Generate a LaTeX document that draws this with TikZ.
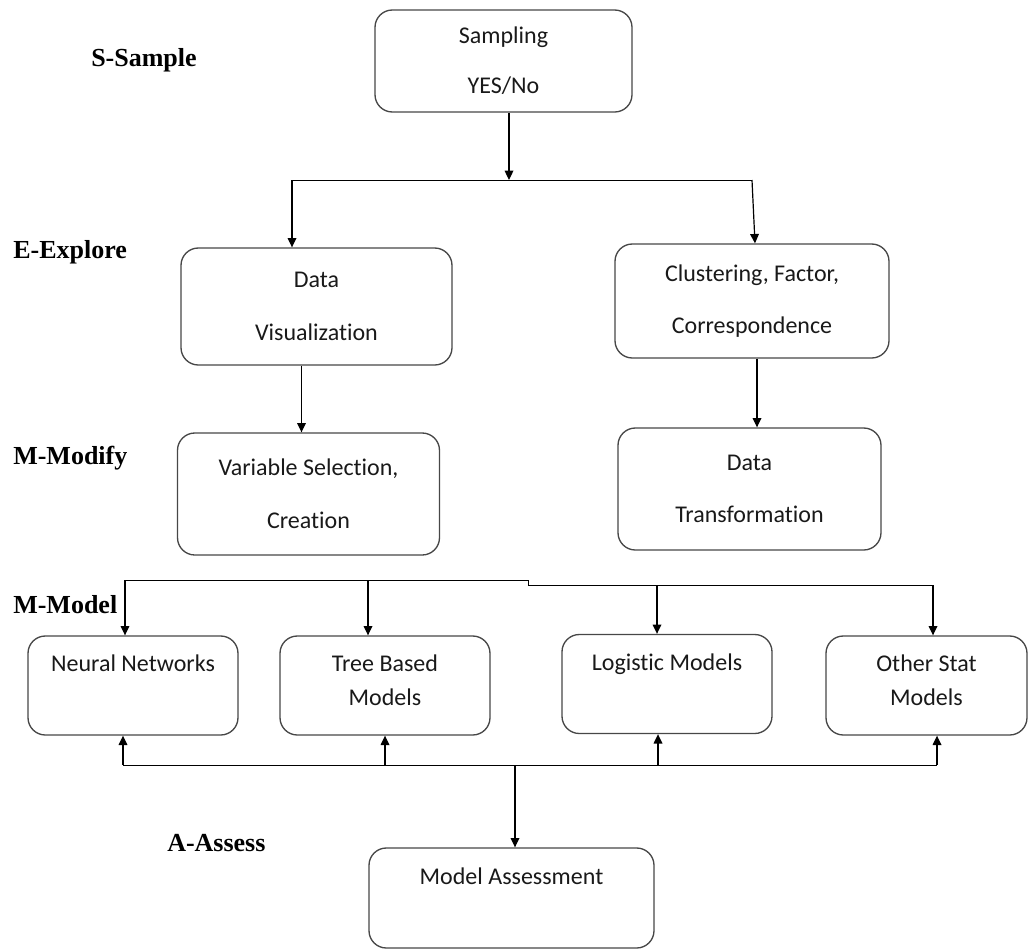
\documentclass[tikz,border=0pt]{standalone}
\usepackage{fontspec}
\setmainfont{Carlito}[Ligatures=NoCommon]
\newfontfamily\phasefont{Liberation Serif}
\usetikzlibrary{arrows.meta,calc}
\tikzstyle{stage} = [draw=black!72, line width=1pt, rounded corners=13pt, align=center, text=black!90, font=\fontsize{18}{25.5}\selectfont, inner sep=0pt]
\newcommand{\lowpad}[1]{\rule[-#1]{0pt}{#1}}

\begin{document}
\begin{tikzpicture}[x=0.75pt, y=-0.75pt,
  phase/.style={anchor=west, inner sep=0pt, font=\phasefont\bfseries\fontsize{19.5}{22}\selectfont},
  arr/.style={-{Triangle[length=7pt,width=6.5pt]}, line width=0.9pt}]
\useasboundingbox (0,0) rectangle (1029,950);

% Phase labels
\node[phase] (sample) at (91,60)  {S-Sample};
\node[phase] (explore) at (13,252) {E-Explore};
\node[phase] (modify) at (13,458)  {M-Modify};
\node[phase] (model) at (13,605)   {M-Model};
\node[phase] (assessl) at (167,843) {A-Assess};

% Define nodes
\node[stage, minimum width=192.75pt, minimum height=76.5pt] (samp)  at (503.5,61)  {Sampling\\[12pt]YES/No};
\node[stage, minimum width=203.25pt, minimum height=87.75pt] (dv)   at (316.5,306.5) {Data\\[14pt]Visualization};
\node[stage, minimum width=205.5pt, minimum height=85.5pt]  (clus)  at (752,301)   {Clustering, Factor,\\[14pt]Correspondence};
\node[stage, minimum width=196.5pt, minimum height=91.5pt]  (vs)    at (308.5,494) {Variable Selection,\\[14pt]Creation};
\node[stage, minimum width=197.25pt, minimum height=91.5pt] (dt)    at (749.5,489) {Data\\[14pt]Transformation};

\node[stage, minimum width=157.5pt, minimum height=74.25pt] (nn)    at (133,685.5) {Neural Networks\\\strut};
\node[stage, minimum width=157.5pt, minimum height=74.25pt] (tree)  at (385,685.5) {Tree Based\\Models\lowpad{7.5pt}};
\node[stage, minimum width=157.5pt, minimum height=74.25pt] (logit) at (667,684)   {Logistic Models\\\strut};
\node[stage, minimum width=150.75pt, minimum height=74.25pt] (other) at (926.5,685.5) {Other Stat\\Models\lowpad{7.5pt}};

\node[stage, minimum width=213.75pt, minimum height=75pt]   (assess) at (511.5,898) {Model Assessment\lowpad{33pt}};

% Junctions
\coordinate (split)  at (509,180);
\coordinate (splitL) at (292,180);
\coordinate (splitR) at (752,180);
\coordinate (busL)   at (125,580);
\coordinate (busStep) at (528,580);
\coordinate (busR)   at (933,585);
\coordinate (tapT)   at (368,580);
\coordinate (tapG)   at (657,585);
\coordinate (retL)   at (123,765);
\coordinate (retR)   at (937,765);
\coordinate (retM)   at (515,765);
\coordinate (upG)    at (658,765);

% Edges
\draw[arr] (samp.south -| split) -- (split);
\draw (splitL) -- (splitR);
\draw[arr] (splitL) -- (splitL |- dv.north);
\draw[arr] (splitR) -- ($(splitR |- clus.north)+(3,0)$);
\draw[arr] ($(dv.south)+(-15,0)$) -- ($(vs.north)+(-7,0)$);
\draw[arr] ($(clus.south)+(5,0)$) -- ($(dt.north)+(7.5,0)$);

\draw (busL) -- (busStep) -- ++(0,5) -- (busR);
\draw[arr] (busL) -- (busL |- nn.north);
\draw[arr] (tapT) -- (tapT |- tree.north);
\draw[arr] (tapG) -- (tapG |- logit.north);
\draw[arr] (busR) -- (busR |- other.north);

\draw (retL) -- (retR);
\draw[arr] (retL) -- (retL |- nn.south);
\draw[arr] (tree.south |- retL) -- (tree.south);
\draw[arr] (upG) -- (upG |- logit.south);
\draw[arr] (retR) -- (retR |- other.south);
\draw[arr] (retM) -- (retM |- assess.north);
\end{tikzpicture}
\end{document}
